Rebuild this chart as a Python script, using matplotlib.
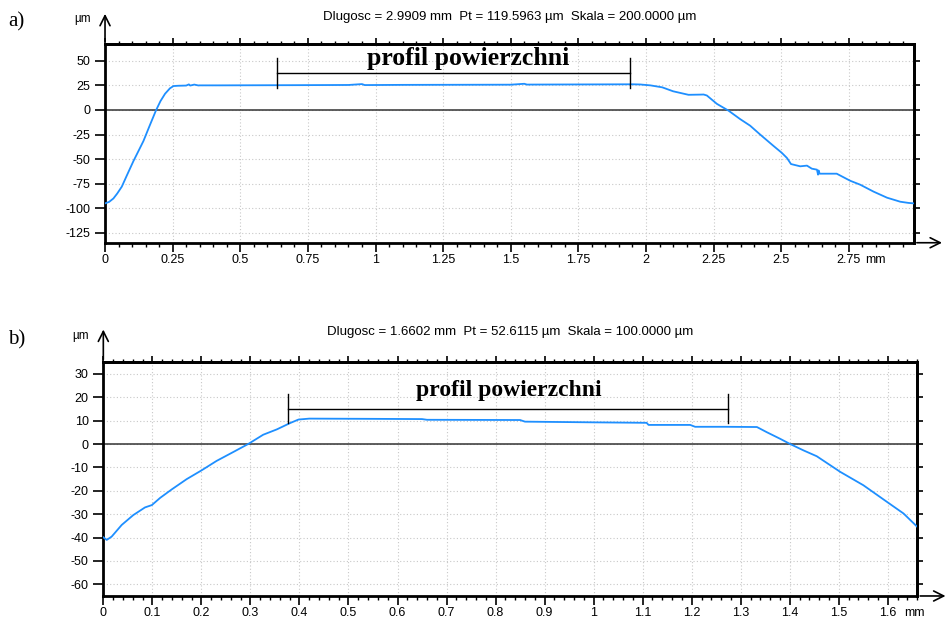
import numpy as np
import matplotlib.pyplot as plt
from matplotlib.ticker import MultipleLocator

plt.rcParams['font.family'] = ['Liberation Sans', 'DejaVu Sans']
plt.rcParams['axes.unicode_minus'] = False

# profile a) (mm, um)
xa = [0, 0.015, 0.031, 0.045, 0.062, 0.08, 0.105, 0.125, 0.142, 0.165, 0.188, 0.205, 0.222,
      0.24, 0.253, 0.27, 0.3, 0.31, 0.315, 0.33, 0.345, 0.35, 0.42, 0.55, 0.7, 0.9, 0.95,
      0.96, 1.1, 1.3, 1.5, 1.55, 1.56, 1.7, 1.85, 1.95, 1.979, 2.016, 2.06, 2.1, 2.157,
      2.2, 2.213, 2.225, 2.262, 2.305, 2.348, 2.385, 2.422, 2.471, 2.502, 2.521, 2.536,
      2.57, 2.595, 2.613, 2.632, 2.636, 2.638, 2.642, 2.65, 2.705, 2.755, 2.792, 2.841,
      2.891, 2.94, 2.97, 2.9909]
ya = [-95, -93.5, -90, -85, -78, -67, -52, -41, -31.6, -16, -0.7, 9, 16.5,
      22, 24.3, 24.6, 24.8, 26, 24.8, 25.8, 24.9, 25, 25, 25.1, 25.2, 25.4, 26.3,
      25.3, 25.5, 25.6, 25.7, 26.6, 25.8, 25.9, 26, 26.1, 25.9, 25, 23, 19, 15.4,
      15.6, 15.7, 14.7, 6.2, -0.7, -9.3, -16, -25, -36.5, -43.6, -48.8, -55,
      -57.3, -56.6, -59.7, -60.7, -65.8, -61.5, -64.8, -64.8, -64.8, -72, -76, -83,
      -89.2, -93.3, -94.5, -95]

# profile b) (mm, um)
xb = [0, 0.007, 0.017, 0.0375, 0.061, 0.085, 0.099, 0.116, 0.1395, 0.17, 0.2007, 0.231,
      0.265, 0.296, 0.326, 0.354, 0.381, 0.398, 0.42, 0.55, 0.65, 0.66, 0.85, 0.86, 1.0,
      1.108, 1.112, 1.197, 1.207, 1.27, 1.333, 1.353, 1.38, 1.401, 1.428, 1.455,
      1.503, 1.55, 1.598, 1.632, 1.66]
yb = [-39.9, -41, -39.6, -34.6, -30.4, -27.1, -26.1, -23, -19.4, -15, -11.2, -7.2,
      -3.4, 0.1, 4, 6.3, 9, 10.5, 10.9, 10.8, 10.7, 10.4, 10.3, 9.6, 9.3,
      9.1, 8.2, 8.2, 7.4, 7.4, 7.3, 5.1, 2.3, 0, -2.7, -5.2,
      -11.9, -17.6, -24.7, -29.7, -35.4]

panels = [
    dict(x=xa, y=ya, xlim=(0, 2.9909), ylim=(-135, 67), rect=[0.1109, 0.611, 0.8543, 0.3184],
         xminor=0.05,
         xticks=[0, 0.25, 0.5, 0.75, 1, 1.25, 1.5, 1.75, 2, 2.25, 2.5, 2.75],
         xlabels=['0', '0.25', '0.5', '0.75', '1', '1.25', '1.5', '1.75', '2', '2.25', '2.5', '2.75'],
         yticks=[-125, -100, -75, -50, -25, 0, 25, 50],
         title='Dlugosc = 2.9909 mm  Pt = 119.5963 µm  Skala = 200.0000 µm', pad=17.6,
         tag='a)', tag_xy=(-0.12, 1.111), um_y=1.126, arrow_top=1.166,
         bracket=(0.637, 1.941, 22.6, 53, 37.7), label_xy=(1.344, 52.7), label_size=18.5),
    dict(x=xb, y=yb, xlim=(0, 1.6602), ylim=(-65, 35), rect=[0.1091, 0.0449, 0.8596, 0.3745],
         xminor=0.02,
         xticks=[0, 0.1, 0.2, 0.3, 0.4, 0.5, 0.6, 0.7, 0.8, 0.9, 1, 1.1, 1.2, 1.3, 1.4, 1.5, 1.6],
         xlabels=['0', '0.1', '0.2', '0.3', '0.4', '0.5', '0.6', '0.7', '0.8', '0.9', '1',
                  '1.1', '1.2', '1.3', '1.4', '1.5', '1.6'],
         yticks=[-60, -50, -40, -30, -20, -10, 0, 10, 20, 30],
         title='Dlugosc = 1.6602 mm  Pt = 52.6115 µm  Skala = 100.0000 µm', pad=19.8,
         tag='b)', tag_xy=(-0.117, 1.098), um_y=1.111, arrow_top=1.152,
         bracket=(0.377, 1.274, 8.9, 21.5, 14.9), label_xy=(0.8276, 22.9), label_size=17),
]

fig = plt.figure(figsize=(9.47, 6.24), dpi=100)

for p in panels:
    ax = fig.add_axes(p['rect'])
    ax.plot(p['x'], p['y'], color='#1E8FFF', lw=1.3, zorder=3)
    ax.axhline(0, color='#333333', lw=1.1, zorder=2)
    ax.set_xlim(*p['xlim'])
    ax.set_ylim(*p['ylim'])

    ax.set_xticks(p['xticks'])
    ax.set_xticklabels(p['xlabels'])
    ax.xaxis.set_minor_locator(MultipleLocator(p['xminor']))
    ax.set_yticks(p['yticks'])
    ax.grid(True, which='major', color='#c8c8c8', ls=(0, (1, 2)), lw=0.8)

    for s in ax.spines.values():
        s.set_linewidth(2)
    ax.tick_params(axis='x', which='major', direction='out', length=6.5, width=1.2,
                   labelsize=9, pad=1.5)
    ax.tick_params(axis='x', which='minor', direction='out', length=3, width=1)
    ax.tick_params(axis='y', which='major', direction='out', length=7, width=1.2,
                   labelsize=9)

    # top and right ticks
    top = ax.secondary_xaxis('top')
    top.set_xticks(p['xticks'])
    top.xaxis.set_minor_locator(MultipleLocator(p['xminor']))
    top.tick_params(which='major', length=4, width=1.2, labeltop=False)
    top.tick_params(which='minor', length=2.5, width=1)
    top.spines['top'].set_linewidth(2)
    right = ax.secondary_yaxis('right')
    right.set_yticks(p['yticks'])
    right.tick_params(length=4, width=1.2, labelright=False)
    right.spines['right'].set_linewidth(2)

    # unit after the last x label
    ax.annotate('mm', xy=(p['xticks'][-1], 0), xycoords=ax.get_xaxis_transform(),
                xytext=(16, -11), textcoords='offset pixels', ha='left', va='top', fontsize=9)

    ax.set_title(p['title'], fontsize=9.5, pad=p['pad'])

    # axis arrows
    ax.annotate('', xy=(0, p['arrow_top']), xytext=(0, 1.0), xycoords='axes fraction',
                arrowprops=dict(arrowstyle='->', lw=1.2, color='black',
                                mutation_scale=18), annotation_clip=False)
    ax.annotate('', xy=(1.038, 0), xytext=(1.0, 0), xycoords='axes fraction',
                arrowprops=dict(arrowstyle='->', lw=1.2, color='black',
                                mutation_scale=18), annotation_clip=False)
    ax.text(-0.0175, p['um_y'], 'µm', transform=ax.transAxes, ha='right', va='center',
            fontsize=8.5)
    ax.text(p['tag_xy'][0], p['tag_xy'][1], p['tag'], transform=ax.transAxes, ha='left',
            va='center', fontsize=15, family='Liberation Serif')

    # bracket marking the measured surface
    x0, x1, yl, yh, ym = p['bracket']
    ax.plot([x0, x0], [yl, yh], color='black', lw=1, zorder=4)
    ax.plot([x1, x1], [yl, yh], color='black', lw=1, zorder=4)
    ax.plot([x0, x1], [ym, ym], color='black', lw=1, zorder=4)
    ax.text(p['label_xy'][0], p['label_xy'][1], 'profil powierzchni', ha='center',
            va='center', fontsize=p['label_size'], fontweight='bold',
            family='Liberation Serif', zorder=5)

fig.savefig('out.png', dpi=100)
